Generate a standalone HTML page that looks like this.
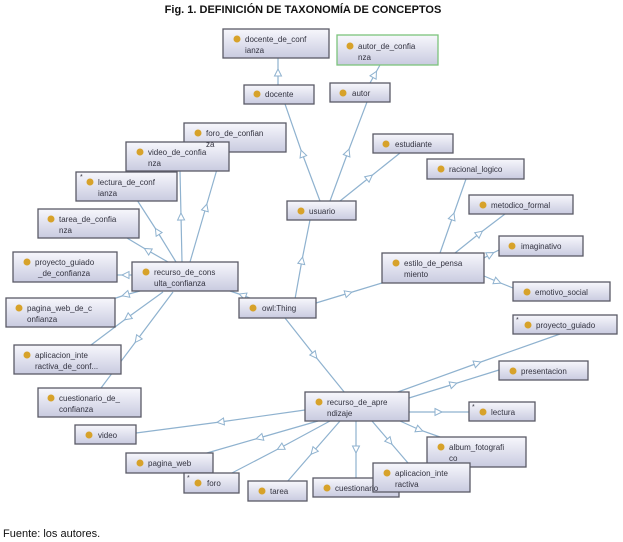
<!DOCTYPE html>
<html><head><meta charset="utf-8">
<style>
html,body{margin:0;padding:0;background:#fff;width:623px;height:542px;overflow:hidden}
svg{display:block}
.t{font-family:"Liberation Sans",sans-serif;font-size:8px;fill:#333340}
.e{stroke:#8fb2cf;stroke-width:1.2;fill:none;marker-mid:url(#ar)}
</style></head><body>
<svg width="623" height="542" viewBox="0 0 623 542" xmlns="http://www.w3.org/2000/svg">
<defs>
<linearGradient id="g" x1="0" y1="0" x2="0" y2="1">
<stop offset="0" stop-color="#f7f7fc"/><stop offset="1" stop-color="#c9cbe0"/>
</linearGradient>
<marker id="ar" markerWidth="10" markerHeight="10" refX="5" refY="5" orient="auto" markerUnits="userSpaceOnUse">
<path d="M1,1.5 L8,5 L1,8.5 Z" fill="#fff" stroke="#8fb2cf" stroke-width="1"/>
</marker>
</defs>
<text x="303" y="13" text-anchor="middle" font-family="Liberation Sans,sans-serif" font-size="11" font-weight="bold" fill="#111">Fig. 1. DEFINICIÓN DE TAXONOMÍA DE CONCEPTOS</text>

<polyline class="e" points="295,299 302,260 310,220"/>
<polyline class="e" points="316,303 349,293 382,283"/>
<polyline class="e" points="285,318 315,356 345,393"/>
<polyline class="e" points="255,300 242,295 230,291"/>
<polyline class="e" points="320,201 302,153 285,104"/>
<polyline class="e" points="330,201 348,152 367,102"/>
<polyline class="e" points="340,201 370,177 400,153"/>
<polyline class="e" points="278,85 278,72 278,58"/>
<polyline class="e" points="370,83 375,74 380,65"/>
<polyline class="e" points="440,253 453,216 466,179"/>
<polyline class="e" points="455,253 480,233 505,214"/>
<polyline class="e" points="484,258 491,254 499,250"/>
<polyline class="e" points="484,276 498,282 513,288"/>
<polyline class="e" points="190,262 206,207 222,152"/>
<polyline class="e" points="182,262 181,216 180,171"/>
<polyline class="e" points="176,262 157,231 137,200"/>
<polyline class="e" points="168,262 147,250 127,238"/>
<polyline class="e" points="132,275 125,275 117,275"/>
<polyline class="e" points="140,291 125,295 110,300"/>
<polyline class="e" points="163,292 127,318 91,345"/>
<polyline class="e" points="173,292 137,340 101,388"/>
<polyline class="e" points="395,393 478,363 560,334"/>
<polyline class="e" points="409,398 454,384 499,370"/>
<polyline class="e" points="409,412 439,412 469,412"/>
<polyline class="e" points="400,421 420,430 440,437"/>
<polyline class="e" points="372,421 390,442 408,463"/>
<polyline class="e" points="356,421 356,450 356,478"/>
<polyline class="e" points="340,421 313,452 287,482"/>
<polyline class="e" points="330,421 280,448 230,474"/>
<polyline class="e" points="318,421 259,438 200,455"/>
<polyline class="e" points="305,410 220,422 136,433"/>

<g stroke="#5a5a66" stroke-width="1.3" fill="url(#g)">
<rect x="223" y="29" width="106" height="29"/>
<rect x="337" y="35" width="101" height="30" stroke="#7cc47c"/>
<rect x="244" y="85" width="70" height="19"/>
<rect x="330" y="83" width="60" height="19"/>
<rect x="373" y="134" width="80" height="19"/>
<rect x="427" y="159" width="97" height="20"/>
<rect x="469" y="195" width="104" height="19"/>
<rect x="499" y="236" width="84" height="20"/>
<rect x="382" y="253" width="102" height="30"/>
<rect x="513" y="282" width="97" height="19"/>
<rect x="287" y="201" width="69" height="19"/>
<rect x="184" y="123" width="102" height="29"/>
<rect x="126" y="142" width="103" height="29"/>
<rect x="76" y="172" width="101" height="29"/>
<rect x="38" y="209" width="101" height="29"/>
<rect x="13" y="252" width="104" height="30"/>
<rect x="132" y="262" width="106" height="29"/>
<rect x="239" y="298" width="77" height="20"/>
<rect x="6" y="298" width="109" height="29"/>
<rect x="14" y="345" width="107" height="29"/>
<rect x="38" y="388" width="103" height="29"/>
<rect x="513" y="315" width="104" height="19"/>
<rect x="499" y="361" width="89" height="19"/>
<rect x="305" y="392" width="104" height="29"/>
<rect x="469" y="402" width="66" height="19"/>
<rect x="427" y="437" width="99" height="30"/>
<rect x="75" y="425" width="61" height="19"/>
<rect x="126" y="453" width="87" height="20"/>
<rect x="184" y="473" width="55" height="20"/>
<rect x="248" y="481" width="59" height="20"/>
<rect x="313" y="478" width="86" height="19"/>
<rect x="373" y="463" width="97" height="29"/>
</g>
<g fill="#d7a22a">
<circle cx="237" cy="39" r="3.5"/><circle cx="350" cy="46" r="3.5"/>
<circle cx="257" cy="94" r="3.5"/><circle cx="343" cy="93" r="3.5"/>
<circle cx="386" cy="144" r="3.5"/><circle cx="441" cy="169" r="3.5"/>
<circle cx="483" cy="205" r="3.5"/><circle cx="512" cy="246" r="3.5"/>
<circle cx="396" cy="263" r="3.5"/><circle cx="527" cy="292" r="3.5"/>
<circle cx="301" cy="211" r="3.5"/><circle cx="198" cy="133" r="3.5"/>
<circle cx="140" cy="152" r="3.5"/><circle cx="90" cy="182" r="3.5"/>
<circle cx="51" cy="219" r="3.5"/><circle cx="27" cy="262" r="3.5"/>
<circle cx="146" cy="272" r="3.5"/><circle cx="253" cy="308" r="3.5"/>
<circle cx="19" cy="308" r="3.5"/><circle cx="27" cy="355" r="3.5"/>
<circle cx="51" cy="398" r="3.5"/><circle cx="528" cy="325" r="3.5"/>
<circle cx="513" cy="371" r="3.5"/><circle cx="319" cy="402" r="3.5"/>
<circle cx="483" cy="412" r="3.5"/><circle cx="441" cy="447" r="3.5"/>
<circle cx="89" cy="435" r="3.5"/><circle cx="140" cy="463" r="3.5"/>
<circle cx="198" cy="483" r="3.5"/><circle cx="262" cy="491" r="3.5"/>
<circle cx="327" cy="488" r="3.5"/><circle cx="387" cy="473" r="3.5"/>
</g>
<g class="t">
<text x="245" y="42">docente_de_conf</text><text x="245" y="53">ianza</text>
<text x="358" y="49">autor_de_confia</text><text x="358" y="60">nza</text>
<text x="265" y="97">docente</text>
<text x="352" y="96">autor</text>
<text x="395" y="147">estudiante</text>
<text x="449" y="172">racional_logico</text>
<text x="491" y="208">metodico_formal</text>
<text x="521" y="249">imaginativo</text>
<text x="404" y="266">estilo_de_pensa</text><text x="404" y="277">miento</text>
<text x="535" y="295">emotivo_social</text>
<text x="309" y="214">usuario</text>
<text x="206" y="136">foro_de_confian</text><text x="206" y="147">za</text>
<text x="148" y="155">video_de_confia</text><text x="148" y="166">nza</text>
<text x="98" y="185">lectura_de_conf</text><text x="98" y="196">ianza</text>
<text x="59" y="222">tarea_de_confia</text><text x="59" y="233">nza</text>
<text x="35" y="265">proyecto_guiado</text><text x="38" y="276">_de_confianza</text>
<text x="154" y="275">recurso_de_cons</text><text x="154" y="286">ulta_confianza</text>
<text x="262" y="311">owl:Thing</text>
<text x="27" y="311">pagina_web_de_c</text><text x="27" y="322">onfianza</text>
<text x="35" y="358">aplicacion_inte</text><text x="35" y="369">ractiva_de_conf...</text>
<text x="59" y="401">cuestionario_de_</text><text x="59" y="412">confianza</text>
<text x="536" y="328">proyecto_guiado</text>
<text x="521" y="374">presentacion</text>
<text x="327" y="405">recurso_de_apre</text><text x="327" y="416">ndizaje</text>
<text x="491" y="415">lectura</text>
<text x="449" y="450">album_fotografi</text><text x="449" y="461">co</text>
<text x="98" y="438">video</text>
<text x="148" y="466">pagina_web</text>
<text x="207" y="486">foro</text>
<text x="270" y="494">tarea</text>
<text x="335" y="491">cuestionario</text>
<text x="395" y="476">aplicacion_inte</text><text x="395" y="487">ractiva</text>
<text x="80" y="179" font-size="7">*</text>
<text x="516" y="322" font-size="7">*</text>
<text x="472" y="409" font-size="7">*</text>
<text x="187" y="480" font-size="7">*</text>
</g>
<text x="3" y="537" font-family="Liberation Sans,sans-serif" font-size="11" fill="#111">Fuente: los autores.</text>
</svg>
</body></html>
